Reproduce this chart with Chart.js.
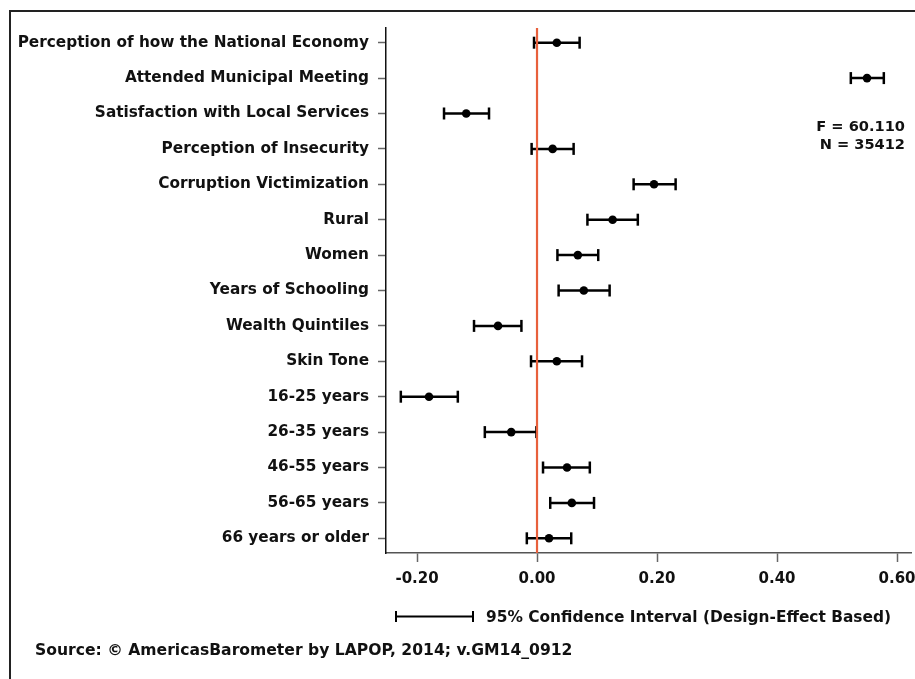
<!DOCTYPE html>
<html><head><meta charset="utf-8">
<script src="https://cdn.jsdelivr.net/npm/chart.js@4/dist/chart.umd.min.js"></script>
<style>
html,body{margin:0;padding:0;background:#fff;}
#wrap{position:relative;width:915px;height:679px;overflow:hidden;font-family:"DejaVu Sans",sans-serif;font-weight:bold;color:#111;background:#fff;}
#frame{position:absolute;left:9px;top:10px;width:1000px;height:1000px;border-top:2px solid #222;border-left:2px solid #222;}
canvas{position:absolute;left:0;top:0;}
.t{position:absolute;font-size:15px;white-space:nowrap;line-height:18px;}
</style></head><body>
<div id="wrap">
<div id="frame"></div>
<canvas id="c" width="915" height="679"></canvas>
<div class="t" style="right:10px;top:117px;text-align:right;font-size:14.6px;">F = 60.110<br>N = 35412</div>
<div class="t" style="left:486px;top:608px;font-size:15.4px;">95% Confidence Interval (Design-Effect Based)</div>
<div class="t" style="left:35px;top:641px;font-size:15.6px;">Source: © AmericasBarometer by LAPOP, 2014; v.GM14_0912</div>
</div>
<script>
const categories = [
  "Perception of how the National Economy",
  "Attended Municipal Meeting",
  "Satisfaction with Local Services",
  "Perception of Insecurity",
  "Corruption Victimization",
  "Rural",
  "Women",
  "Years of Schooling",
  "Wealth Quintiles",
  "Skin Tone",
  "16-25 years",
  "26-35 years",
  "46-55 years",
  "56-65 years",
  "66 years or older"
];
const estimates = [0.033, 0.550, -0.118, 0.026, 0.195, 0.126, 0.068, 0.078, -0.065, 0.033, -0.180, -0.043, 0.050, 0.058, 0.020];
const lower     = [-0.005, 0.523, -0.155, -0.009, 0.161, 0.084, 0.034, 0.036, -0.105, -0.010, -0.227, -0.087, 0.010, 0.022, -0.017];
const upper     = [0.071, 0.578, -0.080, 0.061, 0.231, 0.168, 0.102, 0.121, -0.026, 0.075, -0.132, -0.001, 0.088, 0.095, 0.057];
const xTicks = [-0.2, 0, 0.2, 0.4, 0.6];

Chart.defaults.font.family = '"DejaVu Sans", sans-serif';
Chart.defaults.font.weight = 'bold';
Chart.defaults.font.size = 15;
Chart.defaults.color = '#111';

const yMin = -0.415, yMax = categories.length - 1 + 0.415;

const datasets = [];
datasets.push({
  type: 'line',
  data: [{x: 0, y: yMin}, {x: 0, y: yMax}],
  borderColor: '#E8603C', borderWidth: 2.2, pointRadius: 0, showLine: true
});
categories.forEach((c, i) => {
  datasets.push({
    data: [{x: lower[i], y: i}, {x: upper[i], y: i}],
    showLine: true, borderColor: '#000', borderWidth: 2.5,
    pointStyle: 'line', rotation: 90, pointRadius: 6,
    pointBorderWidth: 2.5, pointBorderColor: '#000', pointBackgroundColor: '#000'
  });
});
datasets.push({
  data: categories.map((c, i) => ({x: estimates[i], y: i})),
  pointRadius: 4.3, pointBorderWidth: 0, backgroundColor: '#000', showLine: false
});

const legendLine = {
  id: 'legendLine',
  afterDraw(chart) {
    const ctx = chart.ctx;
    ctx.save();
    ctx.strokeStyle = '#000';
    ctx.lineWidth = 2;
    ctx.beginPath();
    ctx.moveTo(396, 616.5); ctx.lineTo(473, 616.5);
    ctx.moveTo(396, 611); ctx.lineTo(396, 622);
    ctx.moveTo(473, 611); ctx.lineTo(473, 622);
    ctx.stroke();
    ctx.restore();
  }
};

new Chart(document.getElementById('c'), {
  type: 'scatter',
  data: { datasets },
  plugins: [legendLine],
  options: {
    responsive: false, animation: false, devicePixelRatio: 1,
    layout: { autoPadding: false, padding: { top: 28, right: 4, left: 0, bottom: 0 } },
    plugins: { legend: { display: false }, tooltip: { enabled: false } },
    scales: {
      x: {
        type: 'linear', min: -0.2517, max: 0.6233,
        afterBuildTicks: (s) => { s.ticks = xTicks.map(v => ({value: v})); },
        afterFit: (s) => { s.height = 126; s.paddingLeft = 0; s.paddingRight = 0; },
        ticks: { callback: (v) => Number(v).toFixed(2), padding: 8, autoSkip: false, maxRotation: 0, color: '#111' },
        grid: { drawOnChartArea: false, drawTicks: true, tickLength: 9, tickColor: '#666', tickWidth: 1.5 },
        border: { color: '#555', width: 1.5 }
      },
      y: {
        type: 'linear', reverse: true, min: yMin, max: yMax,
        afterBuildTicks: (s) => { s.ticks = categories.map((c, i) => ({value: i})); },
        afterFit: (s) => { s.width = 386; s.paddingTop = 0; s.paddingBottom = 0; },
        ticks: { callback: (v) => categories[v], padding: 9, autoSkip: false, color: '#111', font: { size: 15.3 } },
        grid: { drawOnChartArea: false, drawTicks: true, tickLength: 8, tickColor: '#666', tickWidth: 1.5 },
        border: { color: '#111', width: 1.5 }
      }
    }
  }
});
</script>
</body></html>
